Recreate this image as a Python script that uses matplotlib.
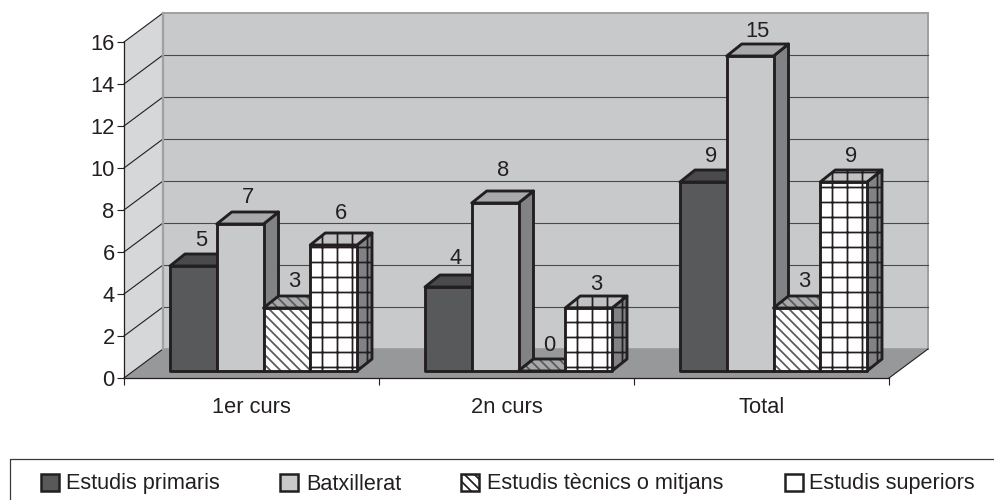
import matplotlib
matplotlib.use("Agg")
import matplotlib.pyplot as plt
from matplotlib.patches import Polygon, Rectangle

plt.rcParams['font.family'] = ['Liberation Sans', 'DejaVu Sans']
plt.rcParams['hatch.linewidth'] = 1.4

categories = ['1er curs', '2n curs', 'Total']
series_names = ['Estudis primaris', 'Batxillerat', 'Estudis tècnics o mitjans', 'Estudis superiors']
primaris = [5, 4, 9]
batxillerat = [7, 8, 15]
tecnics = [3, 0, 3]
superiors = [6, 3, 9]
yticks = list(range(0, 18, 2))

W, H, DPI = 994, 500, 90
fig = plt.figure(figsize=(W / DPI, H / DPI), dpi=DPI, facecolor='white')
ax = fig.add_axes([124 / W, 1 - 378 / H, 765 / W, 336 / H])
ax.set_xlim(-0.5, 2.5)
ax.set_ylim(0, 16)

px = 3 / 765      # data units per pixel, x
py = 16 / 336     # data units per pixel, y
wall_dx, wall_dy = 39 * px, 29 * py
bar_dx, bar_dy = 15 * px, 12 * py
base = 7 * py
bar_w = 46.75 * px
group_pad = 46 * px
BLACK = '#231f20'
LW = 2.3
FS = 17.5
# extra lift of each value label above its bar, in pixels (group, series)
label_lift = [[8, 9, 9, 14], [11, 15, 8, 6], [8, 7, 9, 8]]

def poly(pts, **kw):
    kw.setdefault('clip_on', False)
    ax.add_patch(Polygon(pts, closed=True, **kw))

# walls and floor
x0, x1 = -0.5, 2.5
poly([(x0, 0), (x0 + wall_dx, wall_dy), (x0 + wall_dx, 16 + wall_dy), (x0, 16)],
     fc='#d6d7d9', ec='none', zorder=1)
poly([(x0 + wall_dx, wall_dy), (x1 + wall_dx, wall_dy), (x1 + wall_dx, 16 + wall_dy), (x0 + wall_dx, 16 + wall_dy)],
     fc='#c8c9cb', ec='#a0a1a3', lw=1.6, zorder=1)
poly([(x0, 0), (x1, 0), (x1 + wall_dx, wall_dy), (x0 + wall_dx, wall_dy)],
     fc='#97989a', ec='none', zorder=1.5)
for v in yticks:
    ax.plot([x0, x0 + wall_dx], [v, v + wall_dy], color=BLACK, lw=0.9, clip_on=False, zorder=1.6)
    if 0 < v < 16:
        ax.plot([x0 + wall_dx, x1 + wall_dx], [v + wall_dy, v + wall_dy],
                color='#4a4a4c', lw=0.9, clip_on=False, zorder=1.6)
ax.plot([x1, x1 + wall_dx], [0, wall_dy], color=BLACK, lw=0.9, clip_on=False, zorder=2)
ax.plot([x0 + wall_dx] * 2, [wall_dy, 16 + wall_dy], color='#a0a1a3', lw=1.8, clip_on=False, zorder=1.7)

styles = [
    dict(front='#58595b', top='#4a4a4c', side='#58595b', hatch=None, top_hatch=None, side_hatch=None, hc=None),
    dict(front='#c8c9cb', top='#a7a9ab', side='#808285', hatch=None, top_hatch=None, side_hatch=None, hc=None),
    dict(front='white', top='#a7a9ab', side='#808285', hatch='\\\\\\', top_hatch='\\\\\\', side_hatch=None, hc='#58595b'),
    dict(front='white', top='#c0c1c3', side='#808285', hatch='+', top_hatch='+', side_hatch='+', hc=BLACK),
]
series = [primaris, batxillerat, tecnics, superiors]
z = 3
for g in range(len(categories)):
    for s, vals in enumerate(series):
        st = styles[s]
        v = vals[g]
        left = g - 0.5 + group_pad + s * bar_w
        right = left + bar_w
        bot, top = base, base + v
        edge = {'ec': BLACK, 'lw': LW, 'joinstyle': 'round'}
        side_pts = [(right, bot), (right + bar_dx, bot + bar_dy), (right + bar_dx, top + bar_dy), (right, top)]
        top_pts = [(left, top), (right, top), (right + bar_dx, top + bar_dy), (left + bar_dx, top + bar_dy)]
        hc = st['hc'] or BLACK
        poly(side_pts, fc=st['side'], ec=hc, lw=0, hatch=st['side_hatch'], zorder=z)
        poly(side_pts, fc='none', zorder=z, **edge)
        poly(top_pts, fc=st['top'], ec=hc, lw=0, hatch=st['top_hatch'], zorder=z)
        poly(top_pts, fc='none', zorder=z, **edge)
        ax.add_patch(Rectangle((left, bot), bar_w, v, fc=st['front'], ec=hc, lw=0, hatch=st['hatch'],
                               clip_on=False, zorder=z + 0.1))
        ax.add_patch(Rectangle((left, bot), bar_w, v, fc='none', clip_on=False, zorder=z + 0.1, **edge))
        ax.text(left + bar_w / 2 + bar_dx / 2, top + bar_dy + label_lift[g][s] * py, str(v),
                ha='center', va='baseline', fontsize=FS, color=BLACK, zorder=50, clip_on=False)
        z += 0.2

# axes
for sp in ('top', 'right'):
    ax.spines[sp].set_visible(False)
for sp in ('left', 'bottom'):
    ax.spines[sp].set_color(BLACK)
    ax.spines[sp].set_linewidth(1.0)
    ax.spines[sp].set_zorder(2.5)
ax.patch.set_visible(False)
ax.set_yticks(yticks)
ax.set_yticklabels([str(v) for v in yticks])
ax.set_xticks(range(len(categories)))
ax.set_xticklabels(categories)
ax.set_xticks([-0.5, 0.5, 1.5, 2.5], minor=True)
ax.tick_params(axis='x', which='major', length=0, pad=15.5, labelsize=FS, labelcolor=BLACK)
ax.tick_params(axis='x', which='minor', length=5.5, width=0.9, color=BLACK)
ax.tick_params(axis='y', length=5.5, width=0.9, color=BLACK, pad=2, labelsize=FS, labelcolor=BLACK)

# legend panel
ov = fig.add_axes([0, 0, 1, 1], facecolor='none', zorder=100)
ov.set_xlim(0, W)
ov.set_ylim(H, 0)
ov.axis('off')
ov.plot([1000, 9.5, 9.5], [459, 459, 505], color='#3a3a3c', lw=1.0, clip_on=True)
leg_sw = [41, 280, 461, 785]
leg_tx = [66, 306, 487, 809]
for i, name in enumerate(series_names):
    st = styles[i]
    ov.add_patch(Rectangle((leg_sw[i], 474), 18, 17, fc=st['front'], ec=BLACK, lw=2.0,
                           hatch='\\\\\\' if i == 2 else None))
    ov.text(leg_tx[i], 484, name, ha='left', va='center', fontsize=17.3, color=BLACK)

fig.savefig('out.png', dpi=DPI, facecolor='white')
